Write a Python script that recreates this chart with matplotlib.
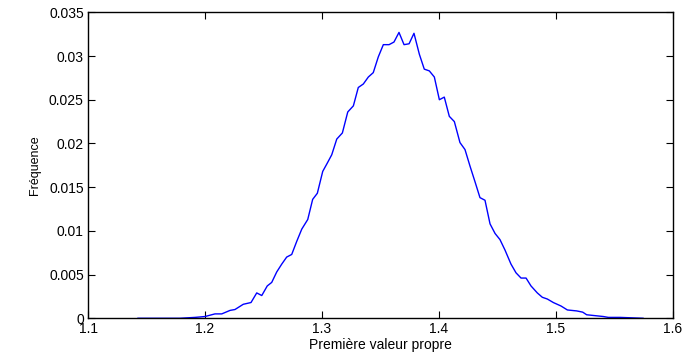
import matplotlib
matplotlib.use("Agg")
import matplotlib.pyplot as plt

# histogram of the first eigenvalue
valeur = [1.1427, 1.1786, 1.1915, 1.2000, 1.2085, 1.2143, 1.2214, 1.2256, 1.2327, 1.2393,
          1.2442, 1.2485, 1.2532, 1.2570, 1.2613, 1.2656, 1.2698, 1.2741, 1.2784, 1.2827,
          1.2878, 1.2920, 1.2960, 1.3006, 1.3043, 1.3083, 1.3126, 1.3174, 1.3220, 1.3268,
          1.3310, 1.3353, 1.3396, 1.3438, 1.3481, 1.3524, 1.3573, 1.3615, 1.3658, 1.3701,
          1.3744, 1.3786, 1.3832, 1.3874, 1.3917, 1.3960, 1.4003, 1.4045, 1.4088, 1.4131,
          1.4179, 1.4222, 1.4265, 1.4308, 1.4350, 1.4393, 1.4436, 1.4479, 1.4521, 1.4564,
          1.4615, 1.4658, 1.4701, 1.4744, 1.4786, 1.4840, 1.4883, 1.4926, 1.4977, 1.5043,
          1.5097, 1.5177, 1.5228, 1.5262, 1.5333, 1.5404, 1.5447, 1.5547, 1.5744]
frequence = [0.0, 0.0, 0.0001, 0.0002, 0.0005, 0.0005, 0.0009, 0.0010, 0.0016, 0.0018,
             0.0029, 0.0026, 0.0037, 0.0041, 0.0053, 0.0062, 0.0070, 0.0073, 0.0088, 0.0102,
             0.0113, 0.0136, 0.0143, 0.0168, 0.0177, 0.0187, 0.0205, 0.0212, 0.0236, 0.0243,
             0.0264, 0.0268, 0.0276, 0.0281, 0.0299, 0.0313, 0.0313, 0.0316, 0.0327, 0.0313,
             0.0314, 0.0326, 0.0302, 0.0285, 0.0283, 0.0276, 0.0250, 0.0253, 0.0231, 0.0225,
             0.0201, 0.0193, 0.0174, 0.0156, 0.0138, 0.0135, 0.0108, 0.0097, 0.0090, 0.0078,
             0.0062, 0.0052, 0.0046, 0.0046, 0.0037, 0.0029, 0.0024, 0.0022, 0.0018, 0.0014,
             0.00095, 0.00084, 0.0007, 0.0004, 0.0003, 0.0002, 0.0001, 0.0001, 0.0]

xticks = [1.1, 1.2, 1.3, 1.4, 1.5, 1.6]
xticklabels = ["1.1", "1.2", "1.3", "1.4", "1.5", "1.6"]
yticks = [0, 0.005, 0.01, 0.015, 0.02, 0.025, 0.03, 0.035]
yticklabels = ["0", "0.005", "0.01", "0.015", "0.02", "0.025", "0.03", "0.035"]

plt.rcParams['font.family'] = ['Liberation Sans', 'DejaVu Sans']

fig = plt.figure(figsize=(6.85, 3.56), dpi=100)
ax = fig.add_axes([0.1285, 0.106, 0.854, 0.8594])
ax.plot(valeur, frequence, color='#0000ff', linewidth=1.0)

ax.set_xlim(1.1, 1.6)
ax.set_ylim(0, 0.035)
ax.set_xticks(xticks)
ax.set_xticklabels(xticklabels)
ax.set_yticks(yticks)
ax.set_yticklabels(yticklabels)
ax.tick_params(direction='in', top=True, right=True, length=5, width=0.8,
               labelsize=10, pad=3)
for s in ax.spines.values():
    s.set_linewidth(1.0)

ax.set_xlabel("Première valeur propre", fontsize=10, labelpad=1)
ax.set_ylabel("Fréquence", fontsize=9, labelpad=6)

fig.savefig("out.png", dpi=100)
